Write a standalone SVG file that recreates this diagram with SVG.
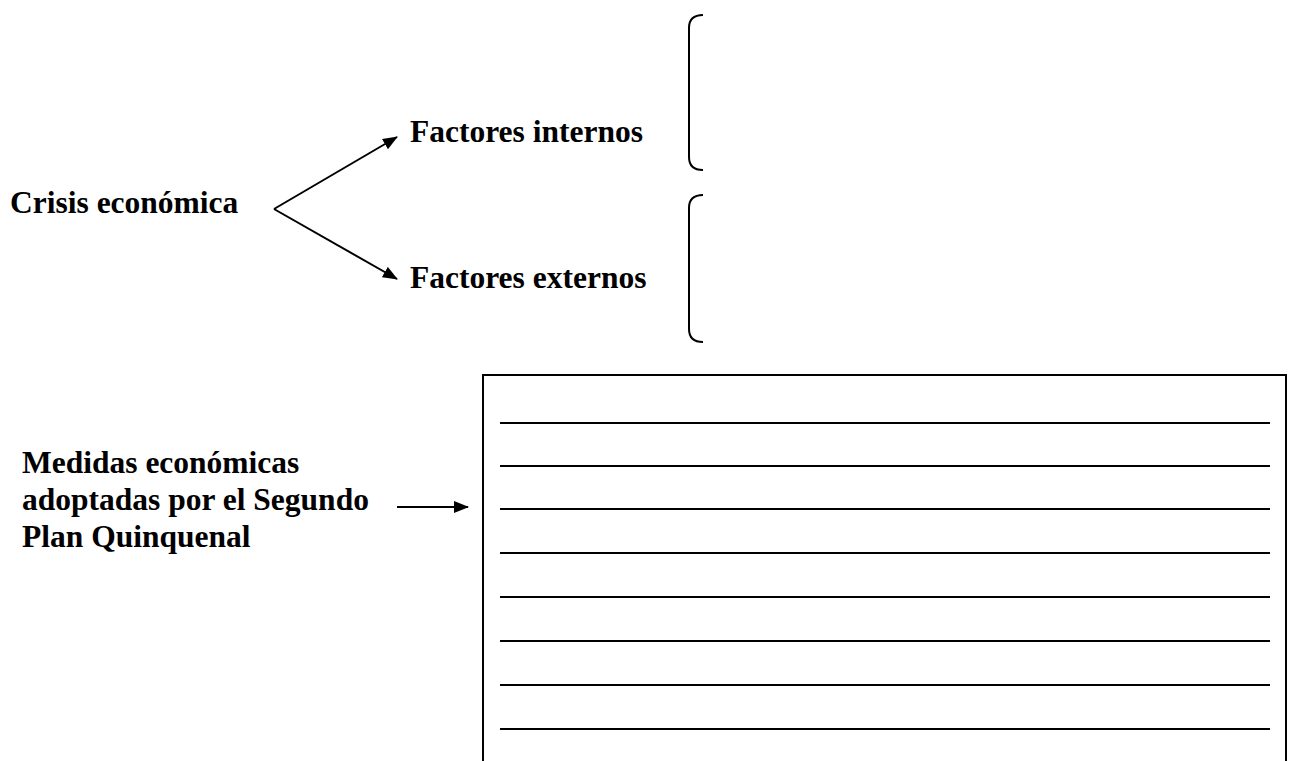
<svg xmlns="http://www.w3.org/2000/svg" width="1291" height="761" viewBox="0 0 1291 761">
<style>
text{font-family:"Liberation Serif","Times New Roman",serif;font-weight:bold;font-size:31.5px;fill:#000}
.ln{stroke:#000;stroke-width:2;fill:none}
</style>
<defs>
<marker id="ah" markerWidth="15" markerHeight="12" refX="14" refY="6" orient="auto" markerUnits="userSpaceOnUse">
<path d="M0,0 L15,6 L0,12 z" fill="#000"/>
</marker>
</defs>
<rect width="1291" height="761" fill="#fff"/>
<g id="crisis"><text x="10" y="213">Crisis económica</text></g>
<g id="internos"><text x="410" y="142">Factores internos</text></g>
<g id="externos"><text x="410" y="288">Factores externos</text></g>
<g id="medidas"><text x="22" y="473">Medidas económicas</text><text x="22" y="510">adoptadas por el Segundo</text><text x="22" y="547">Plan Quinquenal</text></g>
<g id="brace1"><path class="ln" d="M703,15 Q689,15 689,28 L689,157 Q689,170 703,170"/></g>
<g id="brace2"><path class="ln" d="M703,195 Q689,195 689,208 L689,329 Q689,342 703,342"/></g>
<g id="box">
<path class="ln" d="M483,770 L483,375 L1286,375 L1286,770"/>
<g class="ln"><line x1="500" y1="423" x2="1270" y2="423"/><line x1="500" y1="466" x2="1270" y2="466"/><line x1="500" y1="509" x2="1270" y2="509"/><line x1="500" y1="553" x2="1270" y2="553"/><line x1="500" y1="597" x2="1270" y2="597"/><line x1="500" y1="641" x2="1270" y2="641"/><line x1="500" y1="685" x2="1270" y2="685"/><line x1="500" y1="729" x2="1270" y2="729"/></g>
</g>
<g id="connectors">
<line class="ln" x1="274" y1="209" x2="397" y2="137" marker-end="url(#ah)"/>
<line class="ln" x1="274" y1="209" x2="397" y2="279" marker-end="url(#ah)"/>
<line class="ln" x1="397" y1="507" x2="468" y2="507" marker-end="url(#ah)"/>
</g>
</svg>
